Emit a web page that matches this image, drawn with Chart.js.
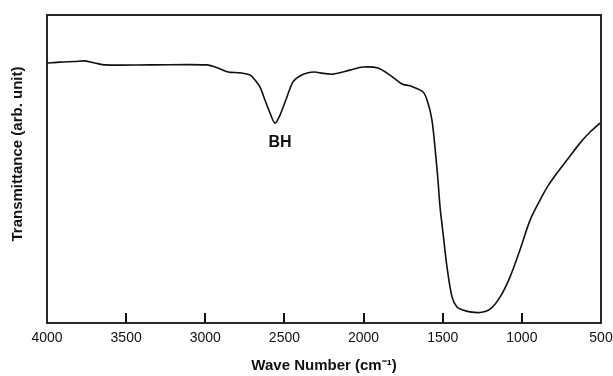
<!DOCTYPE html>
<html lang="en">
<head>
    <meta charset="UTF-8">
    <title>IR spectrum</title>
    <script src="https://cdn.jsdelivr.net/npm/chart.js"></script>
    <style>
        html, body { margin: 0; padding: 0; background: #fff; }
        #wrap { width: 613px; height: 376px; }
    </style>
</head>
<body>
    <div id="wrap"><canvas id="ir"></canvas></div>

    <script>
        // wave numbers (cm-1), high to low
        const waveNumbers = [4000, 3918, 3823, 3760, 3697, 3634, 3349, 2989, 2920, 2856,
            2780, 2717, 2686, 2654, 2623, 2591, 2560, 2528, 2484, 2446,
            2402, 2357, 2307, 2275, 2193, 2086, 2004, 1909, 1833, 1757,
            1707, 1624, 1593, 1568, 1549, 1530, 1517, 1504, 1498, 1473,
            1441, 1410, 1372, 1328, 1265, 1201, 1138, 1075, 1012, 948,
            885, 835, 778, 715, 633, 569, 506];
        // transmittance, arbitrary units (0 = bottom of frame, 100 = top)
        const transmittance = [84.4, 84.7, 84.9, 85.1, 84.4, 83.8, 83.8, 83.8, 82.8, 81.5,
            81.2, 80.5, 78.9, 76.6, 72.4, 68.2, 64.9, 67.5, 73.4, 78.3,
            80.2, 81.2, 81.5, 81.2, 80.8, 82.1, 83.1, 82.8, 80.5, 77.6,
            77.0, 75.0, 71.4, 65.9, 57.1, 46.4, 37.7, 31.8, 29.2, 18.2,
            8.4, 5.2, 4.2, 3.6, 3.4, 4.5, 8.4, 14.9, 23.7, 33.4,
            39.9, 44.5, 48.7, 52.9, 58.4, 62.0, 64.9];
        const xTicks = [4000, 3500, 3000, 2500, 2000, 1500, 1000, 500];
        const peakLabel = { text: 'BH', x: 2560, y: 58.5 };

        const FONT = '"Liberation Sans", Arial, Helvetica, sans-serif';

        // frame, inward bottom ticks, y title and peak label
        const extras = {
            id: 'extras',
            afterDraw(chart) {
                const ctx = chart.ctx;
                const a = chart.chartArea;
                const xs = chart.scales.x, ys = chart.scales.y;
                ctx.save();
                ctx.strokeStyle = '#111';
                ctx.lineWidth = 1.8;
                ctx.strokeRect(a.left, a.top, a.right - a.left, a.bottom - a.top);

                ctx.lineWidth = 2;
                xTicks.forEach(v => {
                    if (v === 4000 || v === 500) return;
                    const px = Math.round(xs.getPixelForValue(v));
                    ctx.beginPath();
                    ctx.moveTo(px, a.bottom);
                    ctx.lineTo(px, a.bottom - 10);
                    ctx.stroke();
                });

                ctx.fillStyle = '#111';
                ctx.font = 'bold 15px ' + FONT;
                ctx.textAlign = 'center';
                ctx.textBaseline = 'middle';
                ctx.translate(18, 154);
                ctx.rotate(-Math.PI / 2);
                ctx.fillText('Transmittance (arb. unit)', 0, 0);
                ctx.restore();

                ctx.save();
                ctx.fillStyle = '#111';
                ctx.font = 'bold 16px ' + FONT;
                ctx.textAlign = 'center';
                ctx.textBaseline = 'middle';
                ctx.fillText(peakLabel.text, xs.getPixelForValue(peakLabel.x) + 5, ys.getPixelForValue(peakLabel.y));
                ctx.restore();
            }
        };

        new Chart(document.getElementById('ir').getContext('2d'), {
            type: 'line',
            data: {
                datasets: [{
                    data: waveNumbers.map((w, i) => ({ x: w, y: transmittance[i] })),
                    borderColor: '#111',
                    borderWidth: 1.6,
                    pointRadius: 0,
                    tension: 0.3,
                    fill: false
                }]
            },
            options: {
                responsive: true,
                maintainAspectRatio: false,
                animation: false,
                layout: { padding: { top: 15, right: 12, left: 0, bottom: 0 } },
                plugins: { legend: { display: false }, tooltip: { enabled: false } },
                scales: {
                    x: {
                        type: 'linear',
                        reverse: true,
                        min: 500,
                        max: 4000,
                        grid: { display: false, drawTicks: false },
                        border: { display: false },
                        afterBuildTicks: s => { s.ticks = xTicks.map(v => ({ value: v })); },
                        ticks: {
                            color: '#111',
                            padding: 7,
                            maxRotation: 0,
                            autoSkip: false,
                            font: { family: FONT, size: 14 },
                            callback: v => String(v)
                        },
                        title: {
                            display: true,
                            text: 'Wave Number (cm\u207B\u00B9)',
                            color: '#111',
                            padding: { top: 0, bottom: 1 },
                            font: { family: FONT, size: 15, weight: 'bold' }
                        },
                        afterFit: s => {
                            s.height = 53;
                            s.paddingLeft = 0;
                            s.paddingRight = 0;
                        }
                    },
                    y: {
                        min: 0,
                        max: 100,
                        grid: { display: false },
                        border: { display: false },
                        ticks: { display: false },
                        afterFit: s => { s.width = 47; }
                    }
                }
            },
            plugins: [extras]
        });
    </script>
</body>
</html>
